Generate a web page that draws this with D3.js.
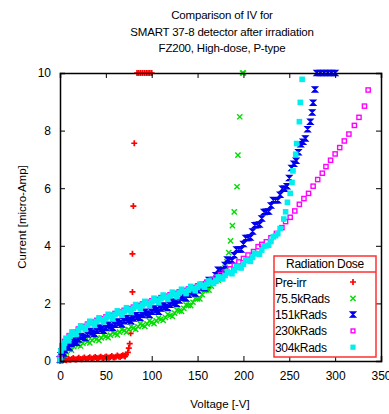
<!DOCTYPE html>
<html><head><meta charset="utf-8">
<script src="https://cdn.jsdelivr.net/npm/d3@7"></script>
<style>
body{margin:0;background:#fff;}
svg text{font-family:"Liberation Sans",Arial,Helvetica,sans-serif;fill:#000;}
</style></head>
<body><svg id="c" width="389" height="414"></svg>
<script>
const titleLines = ["Comparison of IV for","SMART 37-8 detector after irradiation","FZ200, High-dose, P-type"];
const xLabel = "Voltage [-V]";
const yLabel = "Current [micro-Amp]";
const xTicks = [0,50,100,150,200,250,300,350];
const yTicks = [0,2,4,6,8,10];
const legendTitle = "Radiation Dose";
const seriesNames = ["Pre-irr","75.5kRads","151kRads","230kRads","304kRads"];
const seriesColors = ["#ff0000","#00dd00","#0000ee","#ff00ff","#00eeee"];

// Pre-irr
const preV = [0,2,4,6,8,10,13,16,19,22,25,28,31,34,37,40,43,46,49,52,55,58,61,64,67,70,72,74,75,76,77,78,79,79,80,81,84,86,88,90,92,94,96,98,100,
  1,3,5,7,9,11.5,14.5,17.5,20.5,23.5,26.5,29.5,32.5,35.5,38.5,41.5,44.5,47.5,50.5,53.5,56.5,59.5,62.5,65.5,68.5,71];
const preI = [0.0,0.03,0.05,0.04,0.06,0.05,0.07,0.06,0.08,0.07,0.09,0.08,0.1,0.09,0.11,0.1,0.12,0.11,0.13,0.12,0.14,0.13,0.15,0.16,0.17,0.18,0.22,0.3,0.45,0.6,0.96,1.5,2.4,3.72,5.38,7.56,10,10,10,10,10,10,10,10,10,
  0.06,0.02,0.08,0.03,0.09,0.04,0.1,0.05,0.11,0.06,0.12,0.07,0.13,0.08,0.14,0.09,0.15,0.1,0.16,0.11,0.17,0.12,0.19,0.14,0.2,0.16];
// 75.5kRads
const g75V = [0,2,4,7,10,15,20,25,30,35,40,45,50,55,60,65,70,75,80,85,90,95,100,105,110,115,120,125,130,135,140,145,150,155,160,165,170,175,180,184,186,188,190,193,194,196,199,200,
  3,5.5,8.5,12.5,17.5,22.5,27.5,32.5,37.5,42.5,47.5,52.5,57.5,62.5,67.5,72.5,77.5,82.5,87.5,92.5,97.5,102.5,107.5,112.5,117.5,122.5,127.5,132.5,137.5,142.5,147.5,152.5,157.5,162.5,167.5,172.5,177.5,182];
const g75I = [0.0,0.15,0.22,0.32,0.4,0.5,0.56,0.62,0.67,0.72,0.76,0.8,0.85,0.9,0.95,1.0,1.05,1.09,1.14,1.19,1.24,1.29,1.34,1.39,1.45,1.51,1.58,1.66,1.74,1.83,1.93,2.04,2.16,2.3,2.46,2.6,2.78,2.98,3.25,3.76,4.17,4.7,5.18,6.05,7.15,8.48,10,10,
  0.25,0.2,0.43,0.38,0.6,0.52,0.72,0.63,0.81,0.71,0.9,0.81,1.0,0.91,1.1,1.0,1.19,1.1,1.29,1.2,1.39,1.3,1.49,1.41,1.62,1.55,1.77,1.72,1.95,1.92,2.17,2.16,2.45,2.46,2.76,2.81,3.19,3.45];
// 151kRads
const b151V = [0,1,3,5,8,12,16,20,25,30,35,40,45,50,55,60,65,70,75,80,85,90,95,100,105,110,115,120,125,130,135,140,145,150,155,160,165,170,175,180,185,190,195,200,205,210,215,220,225,230,235,240,245,250,255,260,265,270,273,275,276,278,280,284,288,292,296,300,
  2,4,6.5,10,14,18,22.5,27.5,32.5,37.5,42.5,47.5,52.5,57.5,62.5,67.5,72.5,77.5,82.5,87.5,92.5,97.5,102.5,107.5,112.5,117.5,122.5,127.5,132.5,137.5,142.5,147.5,152.5,157.5,162.5,167.5,172.5,177.5,182.5,187.5,192.5,197.5,202.5,207.5,212.5,217.5,222.5,227.5,232.5,237.5,242.5,247.5,252.5,257.5,262.5,267.5];
const b151I = [0.05,0.2,0.3,0.38,0.5,0.6,0.67,0.75,0.84,0.92,0.99,1.05,1.1,1.15,1.2,1.26,1.32,1.38,1.43,1.48,1.54,1.6,1.65,1.71,1.76,1.82,1.88,1.95,2.02,2.1,2.2,2.3,2.38,2.46,2.55,2.66,2.8,2.98,3.15,3.33,3.5,3.67,3.87,4.06,4.27,4.5,4.72,4.95,5.18,5.4,5.58,5.77,5.98,6.35,6.85,7.25,7.61,8.05,8.31,8.63,8.97,9.43,10,10,10,10,10,10,
  0.33,0.26,0.52,0.47,0.71,0.63,0.87,0.8,1.04,0.94,1.16,1.05,1.26,1.15,1.37,1.27,1.49,1.38,1.59,1.49,1.71,1.6,1.82,1.71,1.93,1.84,2.07,1.98,2.23,2.17,2.42,2.34,2.59,2.53,2.81,2.81,3.17,3.14,3.52,3.49,3.87,3.87,4.27,4.29,4.71,4.74,5.17,5.19,5.59,5.58,5.98,6.07,6.7,6.95,7.53,7.73];
// 230kRads
const m230V = [0,5,10,15,20,25,30,35,40,45,50,55,60,65,70,75,80,85,90,95,100,105,110,115,120,125,130,135,140,145,150,155,160,165,170,175,180,185,190,195,200,205,211,216,220,225,230,236,242,246,251,256,261,266,271,276,281,286,290,295,300,305,310,315,321,326,332,336];
const m230I = [0.1,0.68,0.88,1.0,1.11,1.2,1.28,1.35,1.41,1.47,1.53,1.59,1.65,1.7,1.76,1.81,1.87,1.93,1.98,2.04,2.09,2.14,2.2,2.25,2.3,2.35,2.4,2.45,2.5,2.55,2.61,2.67,2.74,2.82,2.9,3.0,3.1,3.2,3.32,3.44,3.56,3.68,3.8,3.97,4.05,4.14,4.28,4.43,4.63,4.84,4.99,5.21,5.44,5.64,5.82,6.07,6.3,6.52,6.75,6.97,7.19,7.41,7.64,7.88,8.18,8.46,8.85,9.41];
// 304kRads
const c304V = [0,1,3,5,8,11,15,20,25,30,35,40,45,50,55,60,65,70,75,80,85,90,95,100,105,110,115,120,125,130,135,140,145,150,155,160,165,170,175,180,185,190,195,200,205,210,215,220,225,230,235,240,244,246,248,251,253,254,257,258,261,262,264,
  2,4,6.5,9.5,13,17.5,22.5,27.5,32.5,37.5,42.5,47.5,52.5,57.5,62.5,67.5,72.5,77.5,82.5,87.5,92.5,97.5,102.5,107.5,112.5,117.5,122.5,127.5,132.5,137.5,142.5,147.5,152.5,157.5,162.5,167.5,172.5,177.5,182.5,187.5,192.5,197.5,202.5,207.5,212.5,217.5,222.5,227.5,232.5,237.5];
const c304I = [0.05,0.35,0.5,0.62,0.75,0.86,0.96,1.07,1.16,1.24,1.31,1.37,1.43,1.49,1.55,1.61,1.66,1.72,1.77,1.83,1.89,1.94,2.0,2.05,2.1,2.16,2.21,2.26,2.31,2.36,2.41,2.46,2.51,2.56,2.61,2.67,2.73,2.8,2.88,2.97,3.06,3.15,3.25,3.36,3.48,3.6,3.72,3.85,4.0,4.15,4.35,4.6,4.93,5.18,5.51,5.82,6.2,6.6,7.18,7.55,8.31,8.98,9.78,
  0.53,0.46,0.79,0.7,1.01,0.92,1.22,1.1,1.38,1.24,1.5,1.36,1.62,1.48,1.74,1.59,1.85,1.7,1.96,1.82,2.07,1.93,2.18,2.03,2.29,2.14,2.39,2.24,2.49,2.34,2.59,2.44,2.67,2.56,2.78,2.69,2.92,2.85,3.1,3.03,3.28,3.23,3.5,3.46,3.74,3.71,3.99,4.02,4.31,4.42];

const seriesV = [preV,g75V,b151V,m230V,c304V];
const seriesI = [preI,g75I,b151I,m230I,c304I];

const L=60,R=381,T=73,B=361;
const x = d3.scaleLinear().domain([0,350]).range([L,R]);
const y = d3.scaleLinear().domain([0,10]).range([B,T]);
const svg = d3.select("#c");

svg.append("g").selectAll("text").data(titleLines).join("text")
  .attr("x",222).attr("y",(d,i)=>19+i*16.5).attr("text-anchor","middle")
  .attr("font-size",11.5).attr("letter-spacing",-0.2).text(d=>d);

svg.append("clipPath").attr("id","cp").append("rect").attr("x",L-4).attr("y",T-4).attr("width",R-L+8).attr("height",B-T+8);

function marker(g,k,s){
  const c=seriesColors[k];
  if(k===0){ g.append("path").attr("d",`M${-s},0H${s}M0,${-s}V${s}`).attr("stroke",c).attr("stroke-width",1.7).attr("fill","none"); }
  else if(k===1){ g.append("path").attr("d",`M${-s},${-s}L${s},${s}M${-s},${s}L${s},${-s}`).attr("stroke",c).attr("stroke-width",1.4).attr("fill","none"); }
  else if(k===2){ g.append("path").attr("d",`M${-s},${-s}H${s}L${-s},${s}H${s}Z`).attr("stroke",c).attr("stroke-width",1.3).attr("fill",c); }
  else if(k===3){ g.append("rect").attr("x",-s+0.7).attr("y",-s+0.7).attr("width",2*s-1.4).attr("height",2*s-1.4).attr("stroke",c).attr("stroke-width",1.4).attr("fill","none"); }
  else { g.append("rect").attr("x",-s).attr("y",-s).attr("width",2*s).attr("height",2*s).attr("fill",c); }
}
const sizes=[3,2.6,2.6,2.8,2.8];
const dataG = svg.append("g").attr("clip-path","url(#cp)");
seriesV.forEach((vs,k)=>{
  const pts = vs.map((v,i)=>({v:v,c:seriesI[k][i]}));
  dataG.append("g").selectAll("g").data(pts).join("g")
    .attr("transform",d=>`translate(${x(d.v)},${y(d.c)})`)
    .each(function(){ marker(d3.select(this),k,sizes[k]); });
});

const ax = svg.append("g");
ax.append("g").attr("transform",`translate(0,${B})`).call(d3.axisBottom(x).tickValues(xTicks).tickSize(-5).tickPadding(10).tickFormat(d3.format("d")));
ax.append("g").attr("transform",`translate(0,${T})`).call(d3.axisTop(x).tickValues(xTicks).tickSize(-5).tickFormat(""));
ax.append("g").attr("transform",`translate(${L},0)`).call(d3.axisLeft(y).tickValues(yTicks).tickSize(-5).tickPadding(9).tickFormat(d3.format("d")));
ax.append("g").attr("transform",`translate(${R},0)`).call(d3.axisRight(y).tickValues(yTicks).tickSize(-5).tickFormat(""));
ax.selectAll(".domain").attr("stroke","#000").attr("stroke-width",1.5);
ax.selectAll(".tick line").attr("stroke","#000").attr("stroke-width",1);
ax.selectAll(".tick text").attr("font-size",12).attr("font-family","Liberation Sans, Arial, sans-serif").attr("fill","#000");

svg.append("text").attr("x",220).attr("y",408).attr("text-anchor","middle").attr("font-size",11.5).text(xLabel);
svg.append("text").attr("transform","translate(26,217) rotate(-90)").attr("text-anchor","middle").attr("font-size",11.5).text(yLabel);

const lg = svg.append("g");
lg.append("rect").attr("x",274).attr("y",256).attr("width",102).attr("height",101).attr("fill","#fff").attr("stroke","#ff3030").attr("stroke-width",1.5);
lg.append("line").attr("x1",274).attr("x2",376).attr("y1",272).attr("y2",272).attr("stroke","#ff3030").attr("stroke-width",1.5);
lg.append("text").attr("x",325).attr("y",268).attr("text-anchor","middle").attr("font-size",12).attr("letter-spacing",-0.3).text(legendTitle);
seriesNames.forEach((n,k)=>{
  const yy = 282 + k*16.3;
  lg.append("text").attr("x",275).attr("y",yy+4.5).attr("font-size",12).attr("letter-spacing",-0.3).text(n);
  const g = lg.append("g").attr("transform",`translate(353,${yy})`);
  marker(g,k,k===0?3:2.6);
});
</script></body></html>
